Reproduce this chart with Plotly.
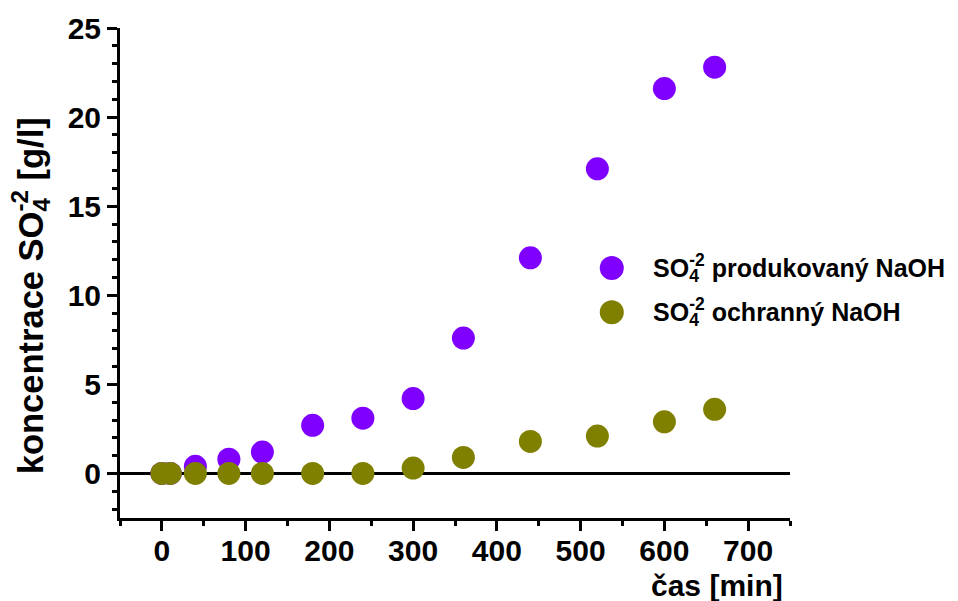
import plotly.graph_objects as go

# Sampling times [min]
time_min = [0, 10, 40, 80, 120, 180, 240, 300, 360, 440, 520, 600, 660]

# Sulphate concentration [g/l]
so4_produced = [0.0, 0.0, 0.4, 0.8, 1.2, 2.7, 3.1, 4.2, 7.6, 12.1, 17.1, 21.6, 22.8]
so4_protective = [0.0, 0.0, 0.0, 0.0, 0.0, 0.0, 0.0, 0.3, 0.9, 1.8, 2.1, 2.9, 3.6]

series_labels = ["produkovaný NaOH", "ochranný NaOH"]
series_colors = ["#7F00FF", "#808000"]

x_ticks = [0, 100, 200, 300, 400, 500, 600, 700]
y_ticks = [0, 5, 10, 15, 20, 25]

FONT = "Liberation Sans, Arial, sans-serif"
MARKER_SIZE = 23


def so4(font_px):
    """SO4 with the sub- and superscript stacked (negative spacing after the 4)."""
    back = round(0.7 * font_px * 0.556, 1)
    return ("SO<sub><span style=\"letter-spacing:-%spx\">4</span></sub>"
            "<sup>-2</sup>" % back)


fig = go.Figure()
for label, ys, color in zip(series_labels, [so4_produced, so4_protective], series_colors):
    fig.add_trace(go.Scatter(
        x=time_min, y=ys, mode="markers", name="SO4-2 " + label, showlegend=False,
        marker=dict(size=MARKER_SIZE, color=color, line=dict(width=0)),
    ))

# Legend drawn as circles + labels in paper space
LEG_FONT = 25
legend_y = [0.510, 0.420]
for label, color, ly in zip(series_labels, series_colors, legend_y):
    fig.add_shape(type="circle", xref="paper", yref="paper",
                  xsizemode="pixel", ysizemode="pixel",
                  xanchor=0.734, yanchor=ly,
                  x0=-12, x1=12, y0=-12, y1=12,
                  fillcolor=color, line=dict(width=0))
    fig.add_annotation(text=so4(LEG_FONT) + " " + label, xref="paper", yref="paper",
                       x=0.7925, y=ly, xanchor="left", yanchor="middle",
                       showarrow=False,
                       font=dict(family=FONT, size=LEG_FONT, color="black", weight="bold"))

axis_common = dict(
    showline=True, linecolor="black", linewidth=3,
    ticks="outside", ticklen=10, tickwidth=3, tickcolor="black",
    showgrid=False, mirror=False,
    tickfont=dict(family=FONT, size=30, color="black", weight="bold"),
)

fig.update_xaxes(range=[-50, 750], tickvals=x_ticks, zeroline=False,
                 ticklabelstandoff=-6,
                 minor=dict(ticks="outside", ticklen=5, tickwidth=3, tickcolor="black", dtick=50, tick0=0),
                 **axis_common)
fig.update_yaxes(range=[-2.5, 25], tickvals=y_ticks,
                 zeroline=True, zerolinecolor="black", zerolinewidth=2.5,
                 minor=dict(ticks="outside", ticklen=5, tickwidth=3, tickcolor="black", dtick=1, tick0=0),
                 **axis_common)

# Axis titles
fig.add_annotation(text="čas [min]", xref="paper", yref="paper",
                   x=0.9925, y=-0.137, xanchor="right", yanchor="middle",
                   showarrow=False,
                   font=dict(family=FONT, size=30, color="black", weight="bold"))
Y_TITLE_FONT = 34.5
fig.add_annotation(text="koncentrace " + so4(Y_TITLE_FONT) + " [g/l]", xref="paper", yref="paper",
                   x=-0.134, y=0.453, xanchor="center", yanchor="middle", textangle=-90,
                   showarrow=False,
                   font=dict(family=FONT, size=Y_TITLE_FONT, color="black", weight="bold"))

fig.update_layout(
    width=958, height=601,
    margin=dict(l=120, r=168, t=28, b=83),
    plot_bgcolor="white", paper_bgcolor="white",
    showlegend=False,
)

fig.write_html("out.html")
